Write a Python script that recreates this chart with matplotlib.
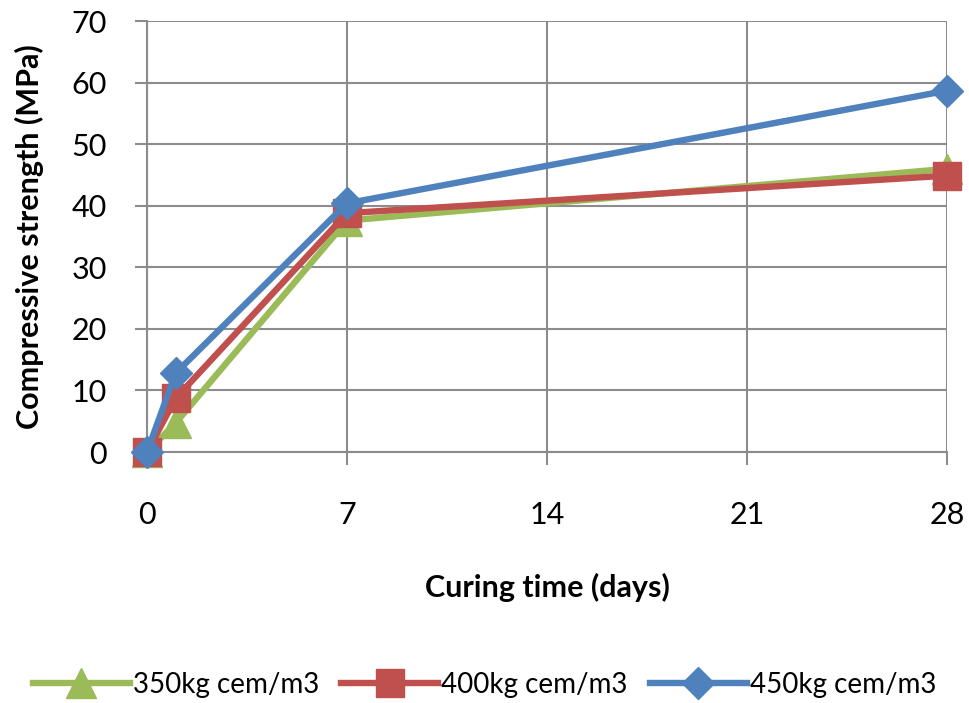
import matplotlib
matplotlib.use("Agg")
import matplotlib.pyplot as plt

plt.rcParams['font.family'] = ['Lato', 'DejaVu Sans']

# curing time (days) and compressive strength (MPa) per cement content
days = [0, 1, 7, 28]
mix_350 = [0.0, 4.7, 37.6, 46.0]
mix_400 = [0.0, 8.7, 38.8, 44.9]
mix_450 = [0.0, 12.8, 40.4, 58.7]
labels = ['350kg cem/m3', '400kg cem/m3', '450kg cem/m3']

green = '#9BBB59'
red = '#C0504D'
blue = '#4F81BD'
grid_col = '#8C8C8C'

fig = plt.figure(figsize=(9.69, 7.03), dpi=100)
ax = fig.add_axes([0.1517, 0.357, 0.8256, 0.613])

ax.plot(days, mix_350, color=green, lw=4.6, marker='^', ms=21, label=labels[0], clip_on=False, zorder=3)
ax.plot(days, mix_400, color=red, lw=4.6, marker='s', ms=20, label=labels[1], clip_on=False, zorder=4)
ax.plot(days, mix_450, color=blue, lw=4.6, marker='D', ms=16, label=labels[2], clip_on=False, zorder=5)

ax.set_xlim(0, 28)
ax.set_ylim(0, 70)
ax.set_xticks([0, 7, 14, 21, 28])
ax.set_yticks(range(0, 71, 10))
ax.grid(True, color=grid_col, lw=1.5)
ax.set_axisbelow(True)
for s in ['top', 'right']:
    ax.spines[s].set_visible(False)
for s in ['left', 'bottom']:
    ax.spines[s].set_color(grid_col)
    ax.spines[s].set_linewidth(1.5)
ax.tick_params(axis='both', colors=grid_col, width=1.5, length=9, labelsize=22, labelcolor='black')
ax.tick_params(axis='x', pad=26)
ax.tick_params(axis='y', pad=20)

ax.set_xlabel('Curing time (days)', fontsize=22, fontweight='bold', labelpad=32)
ax.set_ylabel('Compressive strength (MPa)', fontsize=22, fontweight='bold', labelpad=20)

fig.legend(loc='lower center', bbox_to_anchor=(0.5, -0.028), ncol=3, frameon=False,
           fontsize=20, handlelength=3.5, handletextpad=0.1, columnspacing=0.8)

fig.savefig('out.png', dpi=100)
